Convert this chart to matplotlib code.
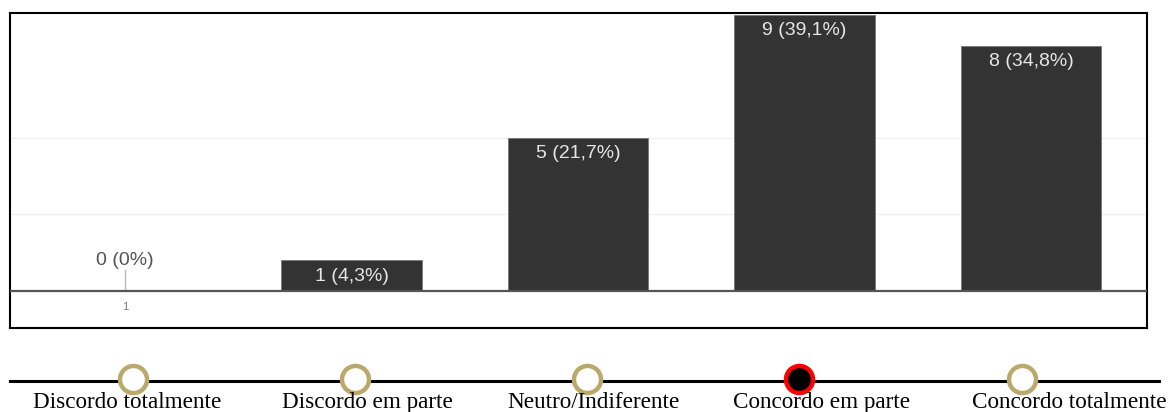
import numpy as np
import matplotlib
matplotlib.use("Agg")
import matplotlib.pyplot as plt

# Response counts per answer option
counts = [0, 1, 5, 9, 8]
percents = ["0%", "4,3%", "21,7%", "39,1%", "34,8%"]
tick_labels = ["1"]
scale_labels = ["Discordo totalmente", "Discordo em parte", "Neutro/Indiferente",
                "Concordo em parte", "Concordo totalmente"]
selected = 3

W, H = 1171, 412
fig = plt.figure(figsize=(W / 100, H / 100), dpi=100)

# --- bar chart panel ---
ax = fig.add_axes([10 / W, 1 - 328 / H, (1147 - 10) / W, (328 - 13) / H])
x = np.arange(len(counts))
bars = ax.bar(x, counts, width=0.62, color="#333333", edgecolor="#777777",
              linewidth=0.6, zorder=3)
ax.set_xlim(-0.508, 4.512)
ax.set_ylim(-1.206, 9.065)
for gy in (2.5, 5.0):
    ax.axhline(gy, color="#f0f0f0", lw=1.0, zorder=1)
ax.axhline(0, color="#555555", lw=1.6, zorder=4)
ax.plot([0, 0], [0, 0.68], color="#bbbbbb", lw=1.0, zorder=2)
ax.text(0, -0.52, tick_labels[0], ha="center", va="center", fontsize=8,
        color="#777777", family="Liberation Sans")

for xi, c, p in zip(x, counts, percents):
    label = f"{c} ({p})"
    if c == 0:
        ax.text(xi, 1.0, label, ha="center", va="center", fontsize=14,
                color="#555555", family="Liberation Sans")
    else:
        ax.annotate(label, (xi, c), xytext=(0, -16), textcoords="offset pixels",
                    ha="center", va="center", fontsize=14, color="#e6e6e6",
                    family="Liberation Sans", zorder=5)

ax.set_xticks([])
ax.set_yticks([])
for s in ax.spines.values():
    s.set_color("black")
    s.set_linewidth(1.5)

# --- Likert scale strip (pixel coordinates) ---
ax2 = fig.add_axes([0, 0, 1, 1], zorder=-1)
ax2.set_xlim(0, W)
ax2.set_ylim(H, 0)
ax2.axis("off")
ax2.plot([10, 1159], [380.5, 380.5], color="black", lw=2.2, zorder=1)
circle_x = [133, 355, 587, 799, 1022]
label_x = [127, 367, 594, 822, 1069]
for i, (c, t, lab) in enumerate(zip(circle_x, label_x, scale_labels)):
    if i == selected:
        ax2.scatter([c], [378.5], s=380, facecolor="black", edgecolor="#ff0000",
                    linewidth=3.2, zorder=2)
    else:
        ax2.scatter([c], [378.5], s=380, facecolor="white", edgecolor="#b9aa6c",
                    linewidth=3.2, zorder=2)
    ax2.text(t, 408, lab, ha="center", va="baseline", fontsize=16.7,
             family="Liberation Serif", color="black", zorder=3)

fig.savefig("out.png", dpi=100)
